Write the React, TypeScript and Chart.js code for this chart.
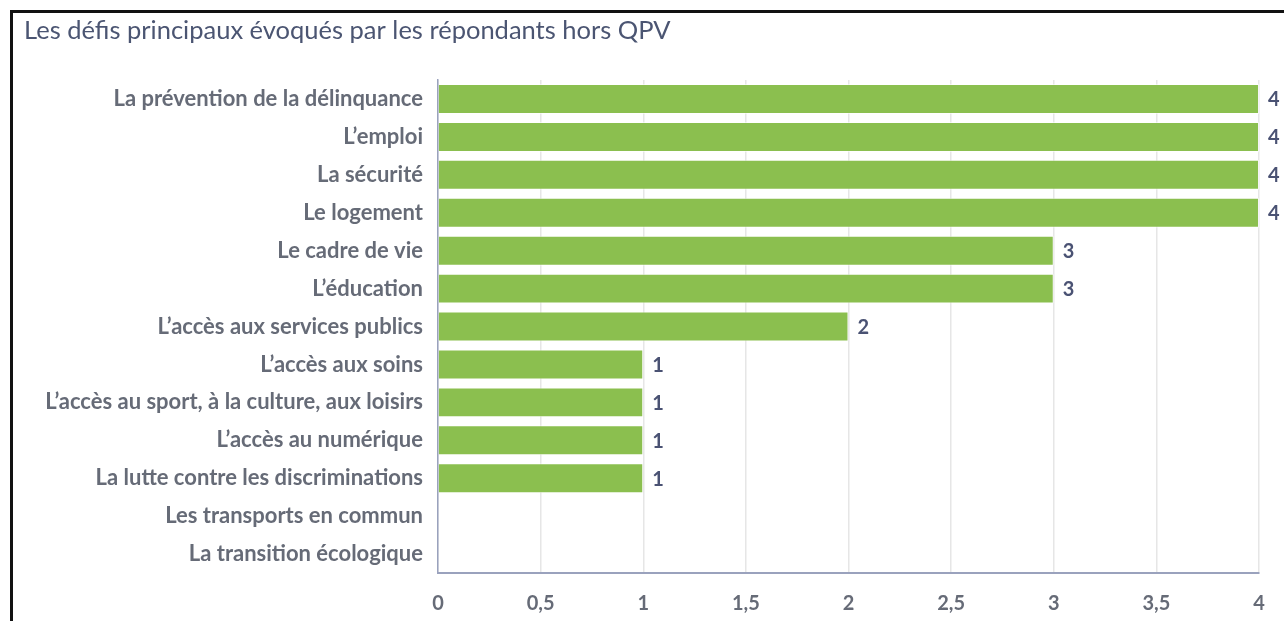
import React, { useEffect, useRef } from "react";
import { Chart, registerables } from "chart.js";

Chart.register(...registerables);

const TITLE = "Les défis principaux évoqués par les répondants hors QPV";
const categories = [
  "La prévention de la délinquance",
  "L’emploi",
  "La sécurité",
  "Le logement",
  "Le cadre de vie",
  "L’éducation",
  "L’accès aux services publics",
  "L’accès aux soins",
  "L’accès au sport, à la culture, aux loisirs",
  "L’accès au numérique",
  "La lutte contre les discriminations",
  "Les transports en commun",
  "La transition écologique",
];
const values = [4, 4, 4, 4, 3, 3, 2, 1, 1, 1, 1, 0, 0];
const xTickValues = [0, 0.5, 1, 1.5, 2, 2.5, 3, 3.5, 4];

const valueLabelPlugin = {
  id: "valueLabels",
  afterDatasetsDraw(chart: any) {
    const ctx = chart.ctx;
    const meta = chart.getDatasetMeta(0);
    ctx.save();
    ctx.font = "bold 20px Lato";
    ctx.fillStyle = "#4a5273";
    ctx.textAlign = "left";
    ctx.textBaseline = "middle";
    meta.data.forEach((bar: any, i: number) => {
      const v = values[i];
      if (!v) return;
      ctx.fillText(String(v), bar.x + 9, bar.y + 1);
    });
    ctx.restore();
  },
};

export default function App() {
  const ref = useRef<HTMLCanvasElement | null>(null);
  useEffect(() => {
    if (!ref.current) return;
    const chart = new Chart(ref.current, {
      type: "bar",
      data: {
        labels: categories,
        datasets: [
          {
            data: values,
            backgroundColor: "#8bbf4f",
            borderColor: "rgba(255,255,255,0.55)",
            borderWidth: 1,
            barPercentage: 0.79,
            categoryPercentage: 1,
          },
        ],
      },
      options: {
        indexAxis: "y",
        animation: false,
        responsive: false,
        maintainAspectRatio: false,
        layout: { padding: { left: 11, right: 25, top: 0, bottom: 0 } },
        plugins: {
          legend: { display: false },
          tooltip: { enabled: false },
          title: {
            display: true,
            text: TITLE,
            align: "start",
            color: "#4b5572",
            font: { family: "Lato", size: 25.5, weight: "normal", lineHeight: 1.1 },
            padding: { top: 4, bottom: 35 },
          },
        },
        scales: {
          x: {
            min: 0,
            max: 4,
            afterBuildTicks(scale: any) {
              scale.ticks = xTickValues.map((v) => ({ value: v }));
            },
            afterFit(scale: any) {
              scale.height = 48;
            },
            ticks: {
              color: "#666b77",
              font: { family: "Lato", size: 20, weight: "bold" },
              padding: 19,
              callback: (v: any) => String(v).replace(".", ","),
            },
            grid: { color: "#e6e6e6", lineWidth: 1.5, drawTicks: false },
            border: { display: true, color: "#9aa2bd", width: 2 },
          },
          y: {
            afterFit(scale: any) {
              scale.width = 414;
            },
            ticks: {
              color: "#666b77",
              font: { family: "Lato", size: 22, weight: "bold" },
              padding: 15,
              autoSkip: false,
            },
            grid: { display: false, drawTicks: false },
            border: { display: true, color: "#9aa2bd", width: 1.5 },
          },
        },
      },
      plugins: [valueLabelPlugin],
    });
    return () => chart.destroy();
  }, []);

  return (
    <div
      style={{
        position: "fixed",
        left: 0,
        top: 0,
        width: 1284,
        height: 621,
        overflow: "hidden",
        background: "#fff",
      }}
    >
      <div
        style={{
          position: "absolute",
          left: 10,
          top: 10,
          width: 1300,
          height: 640,
          border: "3px solid #111",
          boxSizing: "border-box",
        }}
      />
      <canvas
        ref={ref}
        width={1271}
        height={608}
        style={{ position: "absolute", left: 13, top: 13, width: 1271, height: 608 }}
      />
    </div>
  );
}
